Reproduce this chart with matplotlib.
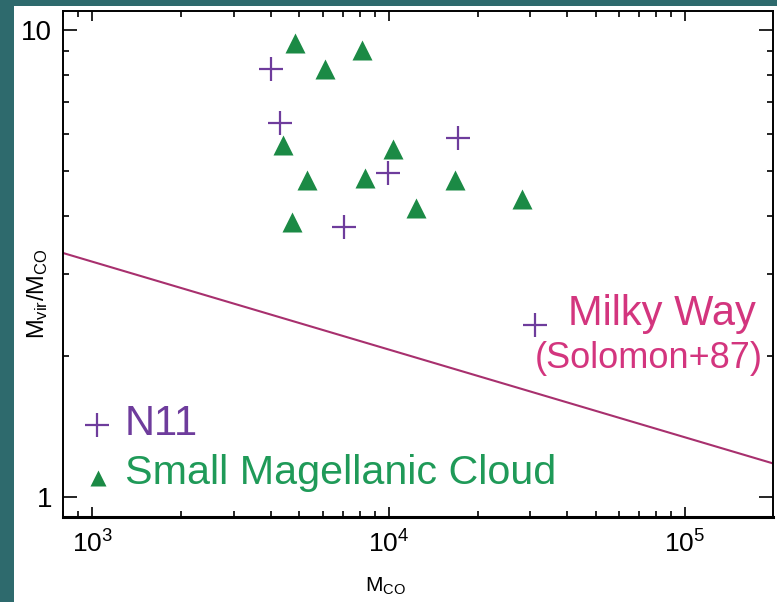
import numpy as np
import matplotlib
matplotlib.use("Agg")
import matplotlib.pyplot as plt
from matplotlib.patches import Rectangle
from matplotlib.ticker import LogLocator, NullFormatter, FixedFormatter, FixedLocator

plt.rcParams['font.family'] = ['Liberation Sans', 'DejaVu Sans']
plt.rcParams['mathtext.fontset'] = 'custom'
plt.rcParams['mathtext.rm'] = 'Liberation Sans'
plt.rcParams['mathtext.it'] = 'Liberation Sans'
plt.rcParams['mathtext.default'] = 'regular'

# N11 clouds (virial / CO mass ratio against CO mass)
n11_mco = [4020, 4305, 17140, 9950, 7080]
n11_ratio = [8.25, 6.32, 5.87, 4.94, 3.79]

# Small Magellanic Cloud clouds
smc_mco = [4840, 6110, 8150, 4405, 10350, 5310, 8340, 16750, 28180, 12390, 4730]
smc_ratio = [9.38, 8.26, 9.06, 5.68, 5.56, 4.78, 4.82, 4.78, 4.35, 4.16, 3.88]

# Milky Way average (Solomon+87)
mw_mco = [31190]
mw_ratio = [2.34]

# Reference power-law line
line_mco = [798, 1.98e5]
line_ratio = [3.33, 1.18]

purple = '#6E3C9C'
green = '#1B8A45'
text_green = '#1F9A58'
pink = '#D3357E'
line_col = '#A8306E'

fig = plt.figure(figsize=(7.77, 6.02), dpi=100)
fig.patch.set_facecolor('#2E6A6D')
fig.add_artist(Rectangle((14 / 777, 0), 1, 1 - 6 / 602, transform=fig.transFigure,
                         facecolor='white', edgecolor='none', zorder=-10))

ax = fig.add_axes([63 / 777, 1 - 517 / 602, 710 / 777, 506 / 602])
ax.set_facecolor('none')
ax.set_xscale('log')
ax.set_yscale('log')
ax.set_xlim(798, 1.98e5)
ax.set_ylim(0.906, 10.98)

ax.plot(line_mco, line_ratio, color=line_col, lw=1.5)
ax.plot(smc_mco, smc_ratio, '^', color=green, ms=14.5, mec='none')
ax.plot(n11_mco, n11_ratio, '+', color=purple, ms=17, mew=1.6)
ax.plot(mw_mco, mw_ratio, '+', color=purple, ms=17, mew=1.6)

# labels inside the plot
ax.plot([0.048], [0.182], '+', color=purple, ms=17, mew=1.6, transform=ax.transAxes, clip_on=False)
ax.text(0.087, 0.162, 'N11', color=purple, fontsize=30, transform=ax.transAxes)
ax.plot([0.049], [0.077], '^', color=green, ms=11.5, mec='none', transform=ax.transAxes, clip_on=False)
ax.text(0.087, 0.065, 'Small Magellanic Cloud', color=text_green, fontsize=29.7, transform=ax.transAxes)
ax.text(0.711, 0.379, 'Milky Way', color=pink, fontsize=30, transform=ax.transAxes)
ax.text(0.665, 0.294, '(Solomon+87)', color=pink, fontsize=26, transform=ax.transAxes)

# axes styling, ticks inward on every side
ax.xaxis.set_major_locator(FixedLocator([1e3, 1e4, 1e5]))
ax.xaxis.set_major_formatter(FixedFormatter([r'$10^{3}$', r'$10^{4}$', r'$10^{5}$']))
ax.xaxis.set_minor_locator(LogLocator(base=10, subs=np.arange(2, 10)))
ax.xaxis.set_minor_formatter(NullFormatter())
ax.yaxis.set_major_locator(FixedLocator([1, 10]))
ax.yaxis.set_major_formatter(FixedFormatter(['1', '10']))
ax.yaxis.set_minor_locator(LogLocator(base=10, subs=np.arange(2, 10)))
ax.yaxis.set_minor_formatter(NullFormatter())

ax.tick_params(which='both', direction='in', top=True, right=True, color='black')
ax.tick_params(axis='y', which='major', length=10, width=1.2, labelsize=20, pad=8)
ax.tick_params(axis='y', which='minor', length=4.5, width=1.2)
ax.tick_params(axis='x', which='major', length=7, width=1.2, labelsize=19, pad=10)
ax.tick_params(axis='x', which='minor', length=4, width=1.2)
for side in ['left', 'top', 'right']:
    ax.spines[side].set_linewidth(1.4)
ax.spines['bottom'].set_linewidth(2.2)

ax.set_xlabel(r'M$_{CO}$', fontsize=15)
ax.set_ylabel(r'M$_{vir}$/M$_{CO}$', fontsize=17)
ax.xaxis.set_label_coords((385 - 63) / 710, -(576 - 517) / 506)
ax.yaxis.set_label_coords(-(63 - 50) / 710, (517 - 294) / 506)

fig.savefig('out.png', dpi=100, facecolor=fig.get_facecolor())
